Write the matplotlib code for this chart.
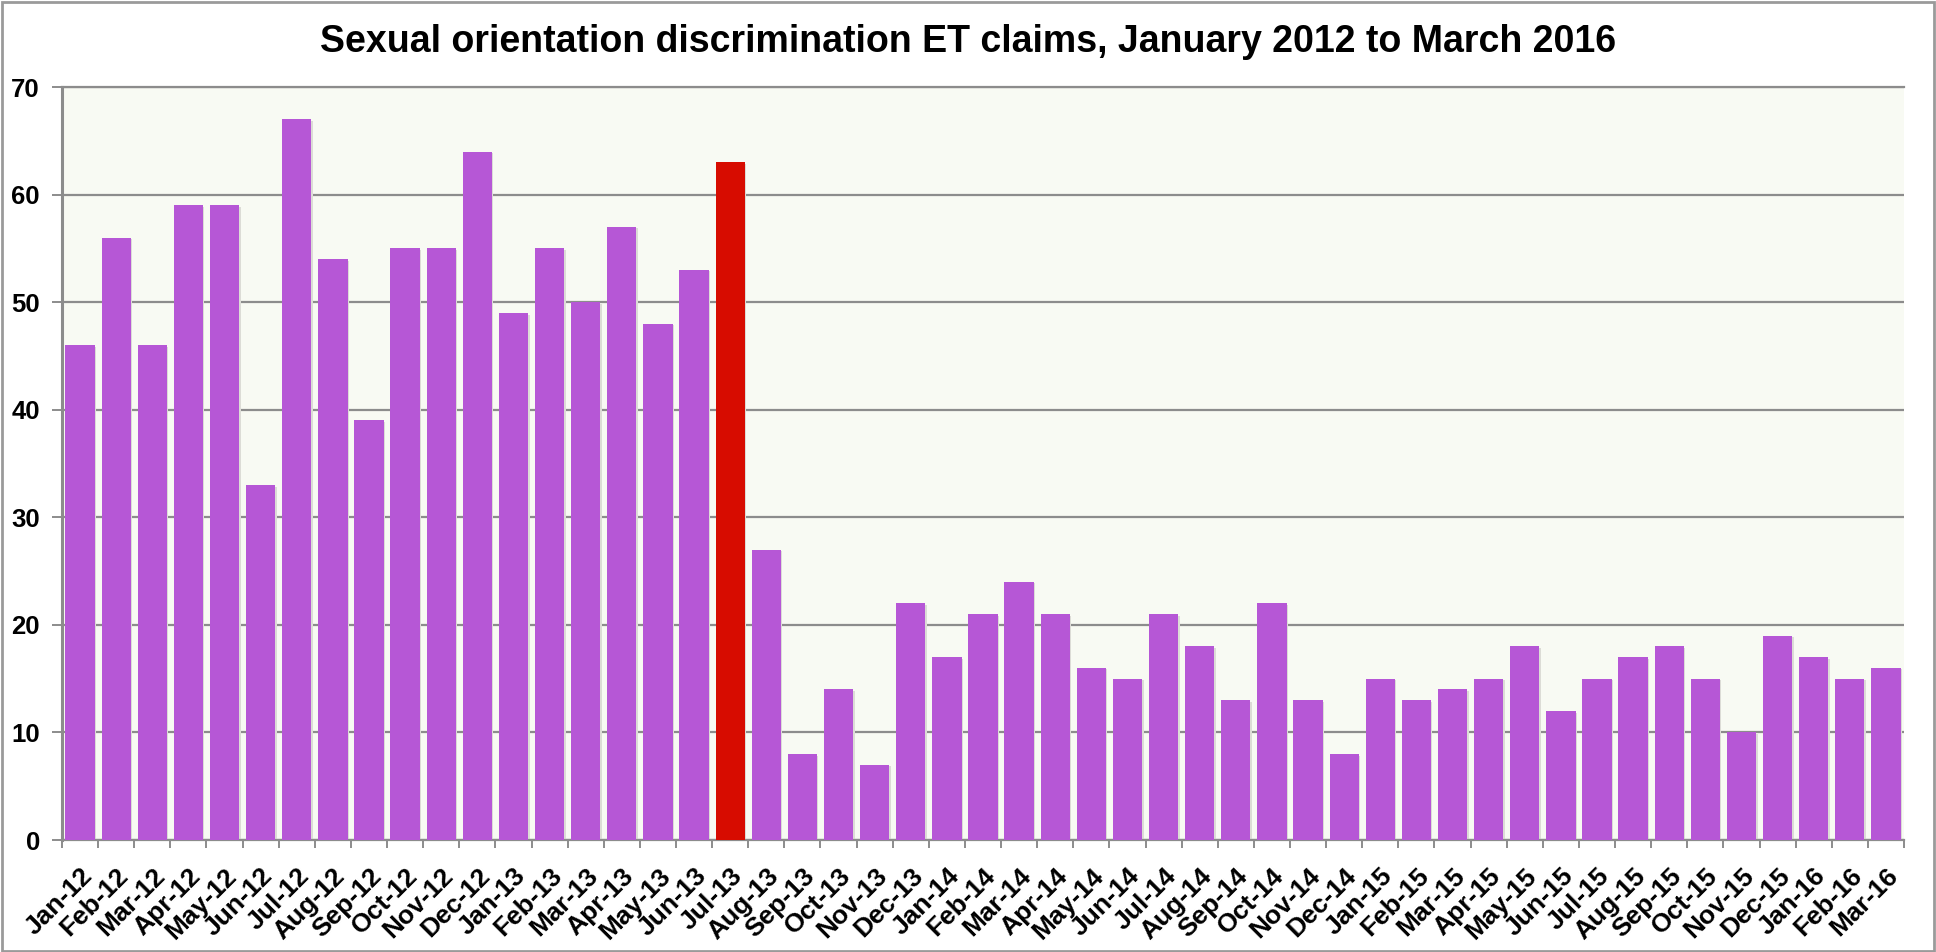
import matplotlib
matplotlib.use("Agg")
import matplotlib.pyplot as plt
from matplotlib.patches import Rectangle

months = ["Jan-12", "Feb-12", "Mar-12", "Apr-12", "May-12", "Jun-12", "Jul-12", "Aug-12", "Sep-12", "Oct-12", "Nov-12", "Dec-12",
          "Jan-13", "Feb-13", "Mar-13", "Apr-13", "May-13", "Jun-13", "Jul-13", "Aug-13", "Sep-13", "Oct-13", "Nov-13", "Dec-13",
          "Jan-14", "Feb-14", "Mar-14", "Apr-14", "May-14", "Jun-14", "Jul-14", "Aug-14", "Sep-14", "Oct-14", "Nov-14", "Dec-14",
          "Jan-15", "Feb-15", "Mar-15", "Apr-15", "May-15", "Jun-15", "Jul-15", "Aug-15", "Sep-15", "Oct-15", "Nov-15", "Dec-15",
          "Jan-16", "Feb-16", "Mar-16"]
claims = [46, 56, 46, 59, 59, 33, 67, 54, 39, 55, 55, 64,
          49, 55, 50, 57, 48, 53, 63, 27, 8, 14, 7, 22,
          17, 21, 24, 21, 16, 15, 21, 18, 13, 22, 13, 8,
          15, 13, 14, 15, 18, 12, 15, 17, 18, 15, 10, 19,
          17, 15, 16]
highlight = "Jul-13"
yticks = [0, 10, 20, 30, 40, 50, 60, 70]
title = "Sexual orientation discrimination ET claims, January 2012 to March 2016"

plt.rcParams['font.family'] = ['Liberation Sans', 'DejaVu Sans']

fig = plt.figure(figsize=(19.36, 9.52), dpi=100)
ax = fig.add_axes([62/1936, 1-840/952, (1904-62)/1936, (840-87)/952])
ax.set_facecolor('#F8FAF3')

purple = '#B657D6'
red = '#D70C00'
colors = [red if m == highlight else purple for m in months]
x = list(range(len(months)))
# subtle shadow
ax.bar([i + 0.04 for i in x], [v - 0.15 for v in claims], width=0.81, color='#dcdcd6', zorder=2)
ax.bar(x, claims, width=0.81, color=colors, zorder=3)

ax.set_xlim(-0.5, len(months) - 0.5)
ax.set_ylim(0, 70)
ax.set_yticks(yticks)
ax.set_yticklabels([str(t) for t in yticks], fontsize=18.5, fontweight='bold')
ax.yaxis.grid(True, color='#8c8c8c', linewidth=1.6, zorder=1)
ax.set_axisbelow(True)

ax.set_xticks(x)
ax.set_xticklabels(months, rotation=45, ha='right', va='top', rotation_mode='anchor',
                   fontsize=19, fontweight='bold')
ax.tick_params(axis='x', which='major', length=0, pad=17)
ax.set_xticks([i - 0.5 for i in range(len(months) + 1)], minor=True)
ax.tick_params(axis='x', which='minor', length=6, width=1.4, color='#8c8c8c')
ax.tick_params(axis='y', length=7, width=1.4, color='#8c8c8c', pad=9)

for s in ['top', 'bottom', 'left']:
    ax.spines[s].set_color('#8c8c8c')
    ax.spines[s].set_linewidth(1.6)
ax.spines['right'].set_visible(False)
ax.spines['left'].set_linewidth(2.2)

fig.text(0.5, 1 - 42/952, title, ha='center', va='center', fontsize=27, fontweight='bold')

fig.patches.append(Rectangle((0.0008, 0.001), 0.9984, 0.997, transform=fig.transFigure,
                             fill=False, edgecolor='#9a9a9a', linewidth=2))

fig.savefig('out.png', dpi=100)
